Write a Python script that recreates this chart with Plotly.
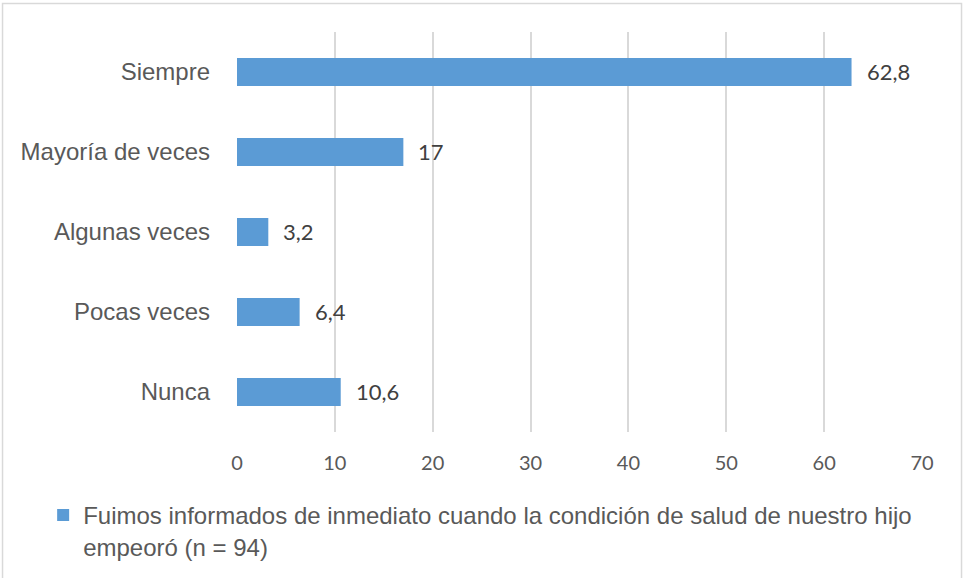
import plotly.graph_objects as go

# Categories listed bottom-to-top so "Siempre" lands at the top
categories = ["Nunca", "Pocas veces", "Algunas veces", "Mayoría de veces", "Siempre"]
values = [10.6, 6.4, 3.2, 17, 62.8]
value_labels = ["10,6", "6,4", "3,2", "17", "62,8"]
x_ticks = [0, 10, 20, 30, 40, 50, 60, 70]
series_name = ("Fuimos informados de inmediato cuando la condición de salud de nuestro hijo"
               "<br>empeoró (n = 94)")

BAR = "#5B9BD5"
GRID = "#D9D9D9"
TEXT = "#595959"
LABEL = "#404040"

fig = go.Figure()
fig.add_trace(go.Bar(
    y=categories, x=values, orientation="h",
    marker=dict(color=BAR, line=dict(width=0)),
    width=0.35, name=series_name, showlegend=True,
    hoverinfo="skip",
))

# value labels to the right of each bar
for cat, v, lab in zip(categories, values, value_labels):
    fig.add_annotation(x=v, y=cat, text=lab, showarrow=False,
                       xanchor="left", xshift=13, yshift=1,
                       font=dict(family="Lato", size=22, color=LABEL))

# light frame around the chart area
fig.add_shape(type="rect", xref="paper", yref="paper",
              x0=-0.3423, x1=1.0577, y0=-0.45, y1=1.0712,
              line=dict(color=GRID, width=1.5), fillcolor="rgba(0,0,0,0)", layer="below")

fig.update_layout(
    width=963, height=578,
    margin=dict(l=237, r=41, t=32, b=146, autoexpand=False),
    paper_bgcolor="white", plot_bgcolor="white",
    bargap=0.65,
    xaxis=dict(range=[0, 70], tickvals=x_ticks, showgrid=True, gridcolor=GRID, gridwidth=1.5,
               zeroline=False, showline=False, ticks="",
               tickfont=dict(family="Lato", size=20, color=TEXT), ticklabelstandoff=17),
    yaxis=dict(showgrid=False, zeroline=False, showline=False, ticks="",
               tickfont=dict(family="Liberation Sans, Arial", size=24, color=TEXT),
               ticklabelstandoff=26),
    legend=dict(orientation="h", x=-0.283, xanchor="left", y=-0.1525, yanchor="top",
                font=dict(family="Liberation Sans, Arial", size=24, color=TEXT),
                bgcolor="rgba(0,0,0,0)", itemwidth=30, valign="top"),
    showlegend=True,
)

fig.write_html("out.html")
